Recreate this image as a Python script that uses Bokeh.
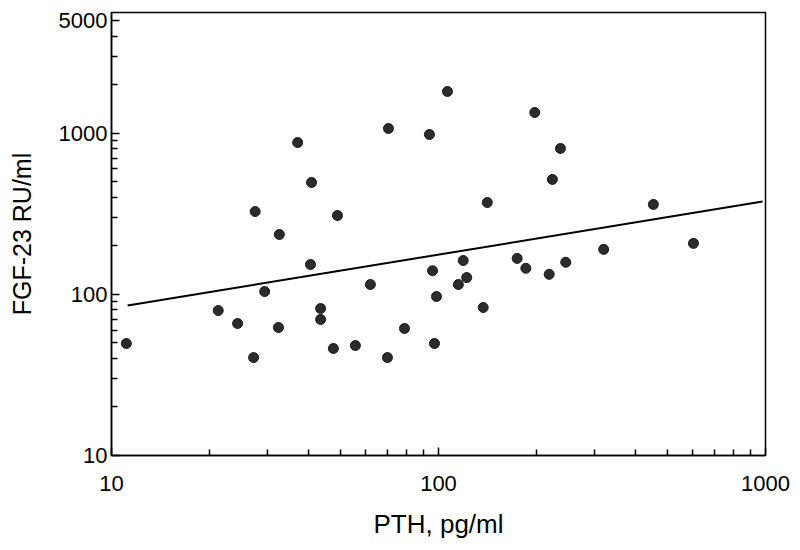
from bokeh.plotting import figure
from bokeh.models import FixedTicker, Range1d, ColumnDataSource, CustomJSTickFormatter
from bokeh.embed import file_html
from bokeh.resources import INLINE

# PTH (pg/ml) and FGF-23 (RU/ml) values
pth = [11.1, 21.2, 24.3, 27.2, 27.5, 29.4, 32.6, 32.4, 37.1, 40.9,
       40.6, 43.6, 43.6, 47.7, 49.1, 55.7, 61.9, 70.3, 69.8, 78.7,
       93.8, 95.9, 98.6, 97.2, 106.5, 115, 119, 122, 137, 141,
       174, 185, 197, 218, 223, 236, 245, 320, 454, 602]
fgf23 = [49.5, 79.3, 65.9, 40.5, 326, 104, 235, 62.2, 874, 494,
         153, 81.6, 69.8, 46.1, 308, 48.1, 115, 1068, 40.5, 61.4,
         980, 140, 96.9, 49.5, 1812, 115, 162, 127, 82.8, 371,
         167, 145, 1342, 133, 516, 803, 158, 190, 361, 207]

# regression line end points
fit_x = [11.2, 980]
fit_y = [85.2, 376]

x_ticks = [10, 100, 1000]
x_minor = [20, 30, 40, 50, 60, 70, 80, 90, 200, 300, 400, 500, 600, 700, 800, 900]
y_ticks = [10, 100, 1000, 5000]
y_minor = [20, 30, 40, 50, 60, 70, 80, 90, 200, 300, 400, 500, 600, 700, 800, 900,
           2000, 3000, 4000]

FONT = "Liberation Sans"

p = figure(width=796, height=545, x_axis_type="log", y_axis_type="log",
           x_range=Range1d(10, 1000), y_range=Range1d(10, 5600),
           output_backend="svg", toolbar_location=None,
           min_border_left=111, min_border_right=31,
           min_border_top=12, min_border_bottom=90)

p.background_fill_color = "white"
p.border_fill_color = "white"
p.outline_line_color = "black"
p.outline_line_width = 1.5
p.xgrid.visible = False
p.ygrid.visible = False

p.line(fit_x, fit_y, line_color="black", line_width=2)
src = ColumnDataSource(dict(x=pth, y=fgf23))
p.scatter("x", "y", source=src, size=10, fill_color="#2b2b2b", line_color="#1a1a1a")

fmt = CustomJSTickFormatter(code="return String(Math.round(tick));")

for ax, ticks, minor in ((p.xaxis[0], x_ticks, x_minor), (p.yaxis[0], y_ticks, y_minor)):
    ax.ticker = FixedTicker(ticks=ticks, minor_ticks=minor)
    ax.formatter = fmt
    ax.axis_line_color = "black"
    ax.axis_line_width = 1.5
    ax.major_tick_in = 8
    ax.major_tick_out = 0
    ax.minor_tick_in = 6
    ax.minor_tick_out = 0
    ax.major_tick_line_width = 1.5
    ax.minor_tick_line_width = 1.5
    ax.major_label_text_font = FONT
    ax.major_label_text_font_size = "22px"
    ax.major_label_text_color = "black"
    ax.axis_label_text_font = FONT
    ax.axis_label_text_font_style = "normal"
    ax.axis_label_text_color = "black"

p.xaxis.axis_label = "PTH, pg/ml"
p.xaxis.axis_label_text_font_size = "26px"
p.xaxis.major_label_standoff = 20
p.xaxis.axis_label_standoff = 15

p.yaxis.axis_label = "FGF-23 RU/ml"
p.yaxis.axis_label_text_font_size = "25px"
p.yaxis.major_label_standoff = 4
p.yaxis.axis_label_standoff = 20

open("out.html", "w").write(file_html(p, INLINE))
